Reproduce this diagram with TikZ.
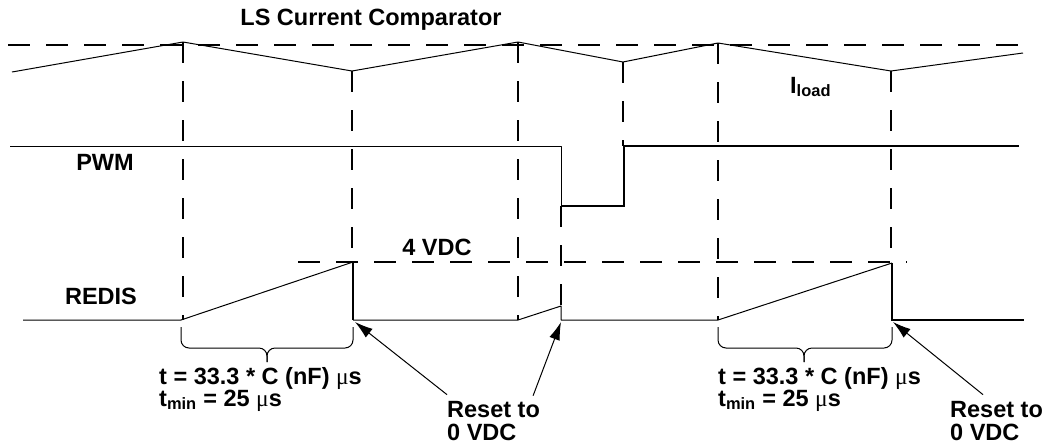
\documentclass[tikz,border=0pt]{standalone}
\usepackage{fontspec}
\setmainfont{Liberation Sans}
\newfontfamily\mufont{Liberation Serif}
\usetikzlibrary{arrows.meta,positioning}
\tikzset{
	sig/.style={line width=1pt, line join=round},
	sigbold/.style={line width=2pt},
	guide/.style={line width=1.8pt, dash pattern=on 22pt off 16pt},
	vguide/.style={line width=1.4pt, dash pattern=on 21pt off 18pt},
	lbl/.style={font=\fontsize{23.5}{26}\selectfont\bfseries, inner sep=0pt},
	ptr/.style={line width=1pt, -{Latex[length=18pt,width=11pt]}},
}
\newcommand{\micro}{{\mufont\mdseries μ}}

\begin{document}
\begin{tikzpicture}[x=1pt, y=-1pt]
	\useasboundingbox (0,0) rectangle (1048,445);
	%
	\node[lbl] (title)	at (371,20) 		{LS Current Comparator};
	\node[lbl] (pwm) 		at (105,162) 		{PWM};
	\node[lbl] (redis) 	at (101,296) 		{REDIS};
	\node[lbl] (vfour) 	at (437,247) 		{4 VDC};
	\node[lbl, anchor=base west] (iload) at (790,93) {I\textsubscript{load}};
	%
	% current ramp and comparator level
	\draw[guide] 	(8,45) -- (1030,45);
	\draw[sig] 		(12,72) -- (183,42) -- (352,71) -- (518,42) -- (623,62) -- (718,43) -- (891,71) -- (1023,53);
	%
	% vertical markers
	\draw[vguide] (183,42) -- (183,320);
	\draw[vguide] (352,71) -- (352,262);
	\draw[vguide] (518,42) -- (518,320);
	\draw[vguide] (561,206) -- (561,306);
	\draw[vguide] (623,62) -- (623,146);
	\draw[vguide] (718,43) -- (718,320);
	\draw[vguide] (891,71) -- (891,263);
	%
	% PWM
	\draw[sig] 		(10,146) -- (561,146) -- (561,206);
	\draw[sigbold] (561,206) -- (624,206) -- (624,146) -- (1019,146);
	%
	% REDIS
	\draw[guide] 	(298,262) -- (907,262);
	\draw[sig] 		(23,320) -- (181,320) -- (353,262);
	\draw[sigbold] (353,262) -- (353,320);
	\draw[sig] 		(353,320) -- (518,320) -- (561,306) -- (561,320) -- (718,320) -- (892,263);
	\draw[sigbold] (892,263) -- (892,320) -- (1024,320);
	%
	% braces
	\draw[sig, rounded corners=8pt] (181,327) |- (267,348) -- (267,362);
	\draw[sig, rounded corners=8pt] (353,327) |- (267,348) -- (267,362);
	\draw[sig, rounded corners=8pt] (718,327) |- (804,348) -- (804,362);
	\draw[sig, rounded corners=8pt] (892,327) |- (804,348) -- (804,362);
	%
	\node[lbl, anchor=base west] (tone) 	at (159,384) {t = 33.3 * C (nF) \micro s};
	\node[lbl, anchor=base west] (tmone) 	at (159,406) {t\textsubscript{min} = 25 \micro s};
	\node[lbl, anchor=base west] (ttwo) 	at (718,384) {t = 33.3 * C (nF) \micro s};
	\node[lbl, anchor=base west] (tmtwo) 	at (718,406) {t\textsubscript{min} = 25 \micro s};
	%
	% reset pointers
	\node[lbl, anchor=base west] (rstone) at (447,417) {Reset to};
	\node[lbl, anchor=base west] (vdcone) at (447,440) {0 VDC};
	\node[lbl, anchor=base west] (rsttwo) at (950,417) {Reset to};
	\node[lbl, anchor=base west] (vdctwo) at (950,440) {0 VDC};
	\coordinate (rcone) 	at (355,322);
	\coordinate (rctwo) 	at (561,322);
	\coordinate (rcthree) at (893,322);
	\draw[ptr] ([yshift=6pt]rstone.north west) 						to (rcone);
	\draw[ptr] ([xshift=-7pt,yshift=5pt]rstone.north east) 	to (rctwo);
	\draw[ptr] ([xshift=33pt,yshift=6pt]rsttwo.north west) 	to (rcthree);
\end{tikzpicture}
\end{document}
